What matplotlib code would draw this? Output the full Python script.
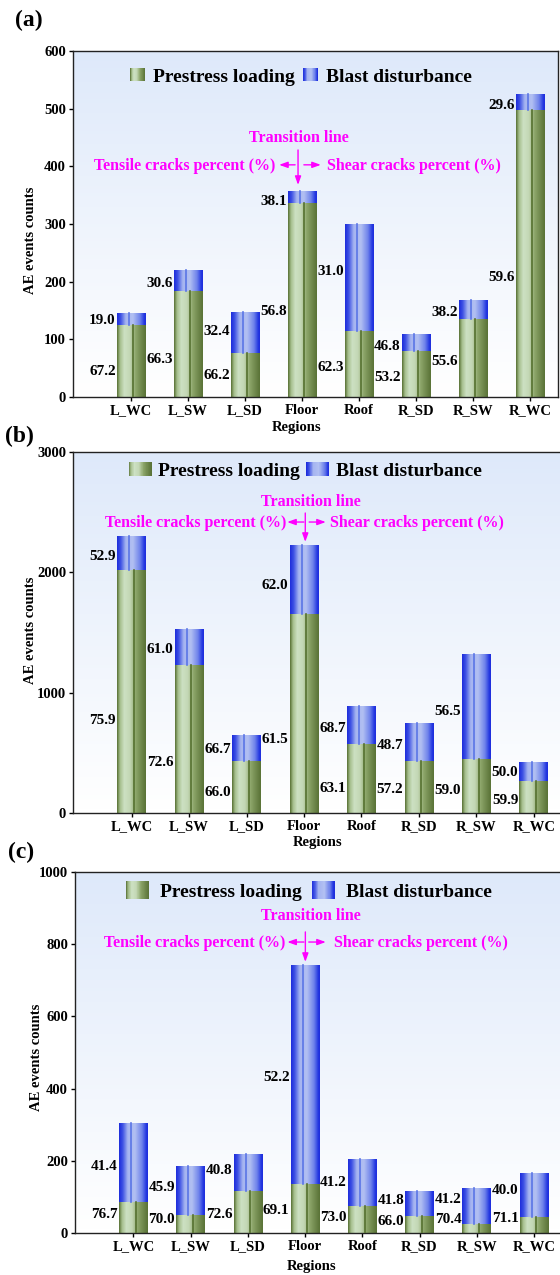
import numpy as np
import matplotlib.pyplot as plt
from matplotlib.patches import Rectangle, Patch
from matplotlib.legend_handler import HandlerBase

plt.rcParams['font.family'] = ['Liberation Serif', 'DejaVu Serif']
plt.rcParams['font.weight'] = 'bold'
plt.rcParams['axes.labelweight'] = 'bold'

regions = ['L_WC', 'L_SW', 'L_SD', 'Floor', 'Roof', 'R_SD', 'R_SW', 'R_WC']

# (a)
a_prestress = [124, 184, 77, 336, 114, 79, 135, 498]
a_blast = [22, 36, 71, 21, 186, 30, 34, 27]
a_low = ['67.2', '66.3', '66.2', '56.8', '62.3', '53.2', '55.6', '59.6']
a_low_y = [45, 65, 38, 149, 52, 34, 61, 207]
a_up = ['19.0', '30.6', '32.4', '38.1', '31.0', '46.8', '38.2', '29.6']
a_up_y = [132, 196, 113, 339, 217, 87, 146, 505]

# (b)
b_prestress = [2018, 1227, 433, 1651, 574, 433, 452, 266]
b_blast = [288, 302, 214, 575, 317, 311, 866, 156]
b_low = ['75.9', '72.6', '66.0', '61.5', '63.1', '57.2', '59.0', '59.9']
b_low_y = [766, 416, 167, 611, 200, 194, 189, 105]
b_up = ['52.9', '61.0', '66.7', '62.0', '68.7', '48.7', '56.5', '50.0']
b_up_y = [2131, 1360, 527, 1890, 705, 561, 846, 339]

# (c)
c_prestress = [86, 50, 117, 136, 74, 46, 26, 44]
c_blast = [220, 135, 103, 606, 130, 69, 98, 122]
c_low = ['76.7', '70.0', '72.6', '69.1', '73.0', '66.0', '70.4', '71.1']
c_low_y = [50, 37, 50, 61, 44, 31, 37, 39]
c_up = ['41.4', '45.9', '40.8', '52.2', '41.2', '41.8', '41.2', '40.0']
c_up_y = [183, 126, 172, 431, 141, 91, 93, 118]

MAG = '#ff00ff'

green_stops = [(0.0, (90, 115, 55)), (0.1, (165, 190, 140)), (0.25, (205, 225, 195)),
               (0.45, (195, 215, 180)), (0.65, (140, 165, 105)), (0.85, (110, 135, 75)),
               (1.0, (90, 115, 55))]
blue_stops = [(0.0, (30, 45, 220)), (0.12, (60, 80, 228)), (0.3, (165, 180, 240)),
              (0.55, (178, 192, 242)), (0.8, (110, 130, 235)), (0.95, (35, 55, 225)),
              (1.0, (30, 45, 220))]


def gradient(stops, n=64):
    pos = [s[0] for s in stops]
    t = np.linspace(0, 1, n)
    cols = np.array([np.interp(t, pos, [s[1][k] for s in stops]) for k in range(3)]).T / 255
    return cols


green_grad = gradient(green_stops)
blue_grad = gradient(blue_stops)


class GradHandler(HandlerBase):
    def __init__(self, cols):
        super().__init__()
        self.cols = cols

    def create_artists(self, legend, orig_handle, xdescent, ydescent, width, height, fontsize, trans):
        n = len(self.cols)
        arts = []
        for i, c in enumerate(self.cols):
            r = Rectangle((-xdescent + width * i / n, -ydescent), width / n * 1.05, height,
                          facecolor=c, edgecolor='none', transform=trans)
            arts.append(r)
        return arts


def draw_bar_gradient(ax, patches, cols, line_pos, line_col):
    img = cols[np.newaxis, :, :]
    for p in patches:
        x0, y0, w, h = p.get_x(), p.get_y(), p.get_width(), p.get_height()
        im = ax.imshow(img, extent=(x0, x0 + w, y0, y0 + h), aspect='auto',
                       interpolation='bilinear', zorder=2)
        im.set_clip_path(p)
        ax.plot([x0 + w * line_pos] * 2, [y0, y0 + h], color=line_col, lw=1.2, zorder=3)


def panel(ax, prestress, blast, ymax, ystep, low, low_y, up, up_y,
          leg_y, leg_x, hlen, hht, htp, csp,
          trans_xy, tens_xy, shear_xy, vert, larr, rarr, reg_xy, ylab_xy, tag, tag_xy):
    x = np.arange(len(regions))
    # background
    bg = np.linspace(1, 0, 100)[:, None]
    top = np.array([222, 233, 250]) / 255
    bgimg = top[None, None, :] * (1 - bg[..., None]) + np.ones(3) * bg[..., None]
    bgimg = np.repeat(bgimg, 2, axis=1)
    ax.imshow(bgimg[::-1], extent=(0, 1, 0, 1), transform=ax.transAxes, aspect='auto', zorder=0)

    b1 = ax.bar(x, prestress, width=0.5, facecolor='none', edgecolor='none', zorder=2)
    b2 = ax.bar(x, blast, width=0.5, bottom=prestress, facecolor='none', edgecolor='none', zorder=2)
    draw_bar_gradient(ax, b1, green_grad, 0.58, '#55702f')
    draw_bar_gradient(ax, b2, blue_grad, 0.42, '#5a75e6')

    for i in range(len(regions)):
        ax.text(x[i] - 0.27, low_y[i], low[i], ha='right', va='center', fontsize=11, zorder=4)
        ax.text(x[i] - 0.27, up_y[i], up[i], ha='right', va='center', fontsize=11, zorder=4)

    ax.set_xlim(-1.02, 7.49)
    ax.set_ylim(0, ymax)
    ax.set_yticks(np.arange(0, ymax + 1, ystep))
    ax.set_xticks(x)
    ax.set_xticklabels(regions)
    ax.tick_params(axis='both', labelsize=10.5, direction='out', length=3, width=1, pad=2)
    for s in ax.spines.values():
        s.set_linewidth(1.0)
        s.set_color('#222222')
    ax.set_ylabel('AE events counts', fontsize=10.5)
    ax.yaxis.set_label_coords(*ylab_xy)
    ax.set_xlabel('Regions', fontsize=10.5)
    ax.xaxis.set_label_coords(*reg_xy)

    hg = Patch(label='Prestress loading')
    hb = Patch(label='Blast disturbance')
    ax.legend(handles=[hg, hb], handler_map={hg: GradHandler(green_grad), hb: GradHandler(blue_grad)},
              loc='center', bbox_to_anchor=(leg_x, leg_y), ncol=2, frameon=False,
              prop={'size': 14, 'weight': 'bold'}, handlelength=hlen, handleheight=hht,
              handletextpad=htp, columnspacing=csp, borderpad=0)

    ax.text(*trans_xy, 'Transition line', transform=ax.transAxes, color=MAG,
            ha='center', va='center', fontsize=11.5, zorder=5)
    ax.text(*tens_xy, 'Tensile cracks percent (%)', transform=ax.transAxes, color=MAG,
            ha='right', va='center', fontsize=11.5, zorder=5)
    ax.text(*shear_xy, 'Shear cracks percent (%)', transform=ax.transAxes, color=MAG,
            ha='left', va='center', fontsize=11.5, zorder=5)
    ap = dict(arrowstyle='-|>,head_length=0.5,head_width=0.18', color=MAG, lw=1.0,
              shrinkA=0, shrinkB=0)
    ax.annotate('', xy=(vert[0], vert[2]), xytext=(vert[0], vert[1]), xycoords='axes fraction',
                arrowprops=ap, zorder=5)
    ax.annotate('', xy=(larr[1], larr[2]), xytext=(larr[0], larr[2]), xycoords='axes fraction',
                arrowprops=ap, zorder=5)
    ax.annotate('', xy=(rarr[1], rarr[2]), xytext=(rarr[0], rarr[2]), xycoords='axes fraction',
                arrowprops=ap, zorder=5)
    fig.text(*tag_xy, tag, fontsize=17, ha='left', va='center')


fig = plt.figure(figsize=(5.6, 12.75), dpi=100)
W, H = 560, 1275
axA = fig.add_axes([73 / W, 1 - 397 / H, 485 / W, 346 / H])
axB = fig.add_axes([73 / W, 1 - 813 / H, 489 / W, 361 / H])
axC = fig.add_axes([75 / W, 1 - 1233 / H, 487 / W, 361 / H])

panel(axA, a_prestress, a_blast, 600, 100, a_low, a_low_y, a_up, a_up_y,
      0.925, 0.47, 0.77, 0.62, 0.41, 0.41,
      (0.466, 0.749), (0.4165, 0.668), (0.524, 0.668),
      (0.464, 0.714, 0.613), (0.458, 0.425, 0.671), (0.476, 0.511, 0.671),
      (0.46, -0.07), (-0.074, 0.454), '(a)', (15 / W, 1 - 20 / H))
panel(axB, b_prestress, b_blast, 3000, 1000, b_low, b_low_y, b_up, b_up_y,
      0.947, 0.475, 1.18, 0.7, 0.36, 0.3,
      (0.487, 0.861), (0.436, 0.803), (0.526, 0.803),
      (0.475, 0.831, 0.751), (0.472, 0.438, 0.806), (0.483, 0.517, 0.806),
      (0.50, -0.064), (-0.074, 0.507), '(b)', (5 / W, 1 - 436 / H))
panel(axC, c_prestress, c_blast, 1000, 200, c_low, c_low_y, c_up, c_up_y,
      0.947, 0.48, 1.18, 1.0, 0.57, 0.5,
      (0.484, 0.878), (0.433, 0.803), (0.532, 0.803),
      (0.473, 0.834, 0.751), (0.470, 0.436, 0.806), (0.480, 0.515, 0.806),
      (0.485, -0.075), (-0.066, 0.488), '(c)', (8 / W, 1 - 852 / H))

fig.savefig('out.png', dpi=100)
